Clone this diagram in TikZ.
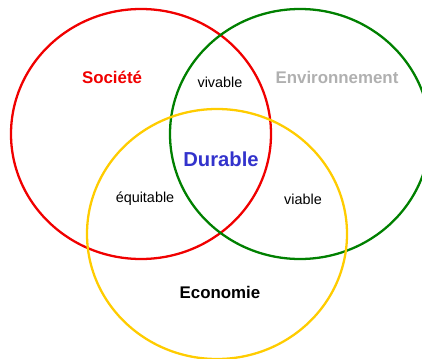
\documentclass[tikz,border=0pt]{standalone}
\usepackage{fontspec}
\setmainfont{Liberation Sans}
\usetikzlibrary{positioning}

\definecolor{rouge}{RGB}{240,0,0}
\definecolor{vert}{RGB}{0,128,0}
\definecolor{jaune}{RGB}{255,204,0}
\definecolor{bleu}{RGB}{51,51,204}
\definecolor{gris}{RGB}{176,176,176}

\tikzset{
  sphere/.style={line width=1.3pt},
  pole/.style={font=\bfseries\fontsize{9.6}{11}\selectfont},
  zone/.style={font=\fontsize{8.2}{10}\selectfont},
}

\begin{document}
\begin{tikzpicture}[x=0.02cm,y=-0.02cm]

	\useasboundingbox (0,0) rectangle (422,358);
	\clip (0,0) rectangle (422,358);

	\draw[sphere,rouge] (141,134) ellipse (130 and 125);
	\draw[sphere,vert] (300,134) ellipse (130 and 125);
	\draw[sphere,jaune] (217,234) ellipse (130 and 125);

	\node[pole,text=rouge] (societe) at (112,77) {Société};
	\node[pole,text=gris] (environnement) at (337,77) {Environnement};
	\node[pole] (economie) at (220,292) {Economie};
	\node[font=\bfseries\fontsize{11.5}{13}\selectfont,text=bleu] (durable) at (221,159) {Durable};

	\node[zone] (vivable) at (220,82) {vivable};
	\node[zone] (equitable) at (145,199) {équitable};
	\node[zone] (viable) at (303,199) {viable};

\end{tikzpicture}
\end{document}
